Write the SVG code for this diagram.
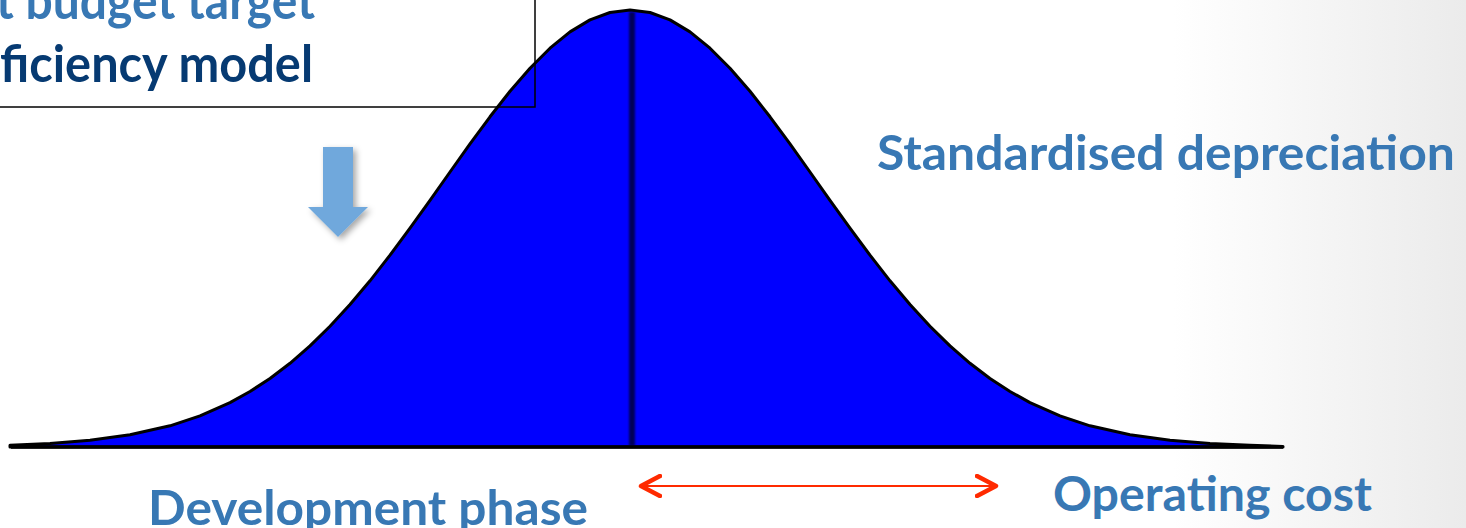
<svg xmlns="http://www.w3.org/2000/svg" width="1466" height="528" viewBox="0 0 1466 528">
  <defs>
    <linearGradient id="bg" x1="0" y1="0" x2="1" y2="0">
      <stop offset="0" stop-color="#ffffff"/>
      <stop offset="0.8" stop-color="#ffffff"/>
      <stop offset="1" stop-color="#ebebeb"/>
    </linearGradient>
    <filter id="shadow" x="-50%" y="-50%" width="200%" height="200%">
      <feDropShadow dx="3" dy="3" stdDeviation="3" flood-color="#000000" flood-opacity="0.35"/>
    </filter>
    <filter id="soft" filterUnits="userSpaceOnUse" x="600" y="0" width="60" height="460">
      <feGaussianBlur stdDeviation="1.2"/>
    </filter>
    <marker id="chev" viewBox="0 0 24 24" refX="21" refY="12" markerWidth="24" markerHeight="24" markerUnits="userSpaceOnUse" orient="auto-start-reverse">
      <polyline points="2,2 21,12 2,22" fill="none" stroke="#ff2a00" stroke-width="4.5" stroke-linecap="round" stroke-linejoin="round"/>
    </marker>
    <style>
      .lbl { font-family: Lato, "Open Sans", "Liberation Sans", sans-serif; font-weight: bold; font-size: 47px; fill: #3878b4; }
      .box { font-size: 52px; }
      .navy { fill: #063a72; }
    </style>
  </defs>
  <rect x="0" y="0" width="1466" height="528" fill="url(#bg)"/>

  <g id="bell-curve">
    <path d="M10,445.2 L50,443.4 L90,440.2 L130,434.8 L170,425.8 L200,415.9 L230,402.6 L250,391.5 L270,378.5 L290,363.3 L310,345.9 L330,326.3 L350,304.5 L370,280.8 L390,255.2 L410,228.2 L430,200.3 L450,172 L470,143.9 L490,116.8 L510,91.3 L530,68.2 L550,48.2 L570,31.9 L590,19.9 L610,12.5 L630,10 L650,12.5 L670,19.9 L690,31.9 L710,48.2 L730,68.2 L750,91.3 L770,116.8 L790,143.9 L810,172 L830,200.3 L850,228.2 L870,255.2 L890,280.8 L910,304.5 L930,326.3 L950,345.9 L970,363.3 L990,378.5 L1010,391.5 L1030,402.6 L1060,415.9 L1090,425.8 L1130,434.8 L1170,440.2 L1210,443.4 L1250,445.2 L1283,446.5 L1283,447 L10,447 Z" fill="#0000ff" stroke="#000000" stroke-width="3" stroke-linejoin="round"/>
    <rect x="629" y="12" width="6" height="434" fill="#00005a" filter="url(#soft)"/>
    <line x1="11" y1="447" x2="1283" y2="447" stroke="#000000" stroke-width="3.5"/>
  </g>

  <g id="model-box">
    <rect x="-2" y="-2" width="537" height="109" fill="none" stroke="#000000" stroke-width="1.5"/>
    <text class="lbl box" x="-4" y="19" textLength="319" lengthAdjust="spacingAndGlyphs">t budget target</text>
    <text class="lbl box navy" x="0" y="82" textLength="313" lengthAdjust="spacingAndGlyphs">ficiency model</text>
  </g>

  <g id="down-arrow">
    <polygon points="323,147 353,147 353,207 368,207 338,237 308,207 323,207" fill="#6fa8dc" filter="url(#shadow)"/>
  </g>

  <g id="label-depreciation">
    <text class="lbl" x="877" y="170" textLength="578" lengthAdjust="spacingAndGlyphs">Standardised depreciation</text>
  </g>
  <g id="label-development">
    <text class="lbl" x="148" y="525" textLength="440" lengthAdjust="spacingAndGlyphs">Development phase</text>
  </g>
  <g id="label-operating">
    <text class="lbl" x="1053" y="511" textLength="319" lengthAdjust="spacingAndGlyphs">Operating cost</text>
  </g>

  <g id="connectors">
    <line x1="641" y1="486" x2="996" y2="486" stroke="#ff2a00" stroke-width="2" marker-start="url(#chev)" marker-end="url(#chev)"/>
  </g>
</svg>
